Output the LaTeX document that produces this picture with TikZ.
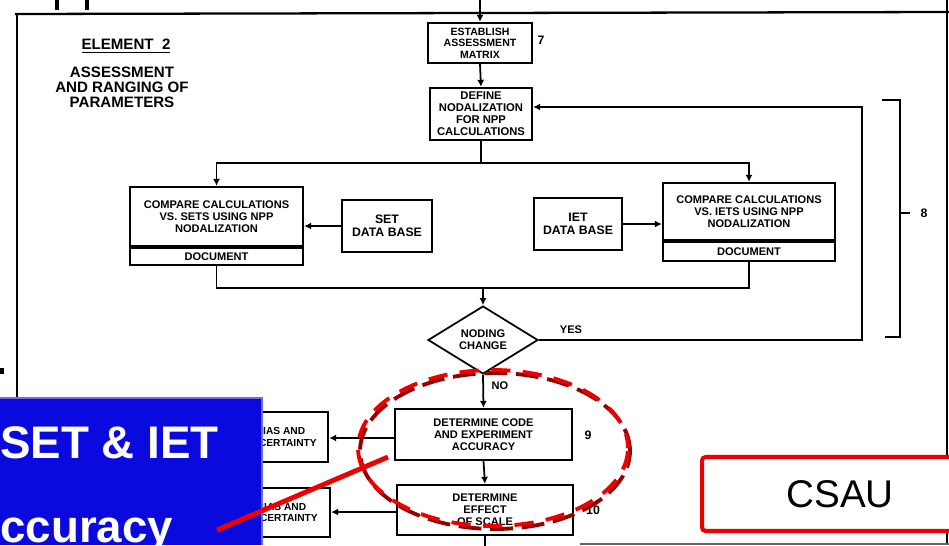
\documentclass[tikz,border=0pt]{standalone}
\usepackage{fontspec}
\setmainfont{Liberation Sans}
\usetikzlibrary{arrows.meta,shapes.geometric}

\definecolor{slideblue}{RGB}{10,10,222}
\definecolor{markred}{RGB}{238,0,0}
\definecolor{shadered}{RGB}{150,0,0}
\newcommand{\scanfont}{\fontsize{6.3}{6.9}\selectfont\bfseries}

\tikzset{
  flowbox/.style={draw,line width=1.3pt,fill=white,align=center,inner sep=0pt,font=\scanfont},
  flowlink/.style={line width=1pt,-{Latex[length=4pt,width=4pt]}},
  flowline/.style={line width=1pt},
  steplabel/.style={font=\fontsize{7}{7}\selectfont\bfseries,inner sep=0pt},
}

\begin{document}
\begin{tikzpicture}[x=0.02cm,y=-0.02cm]
\useasboundingbox (0,0) rectangle (949,545);
\clip (0,0) rectangle (949,545);
\fill[white] (0,0) rectangle (949,545);

%=== scanned frame ===
\draw[line width=2pt] (57,0) -- (57,10);
\draw[line width=2pt] (87,0) -- (87,10);
\draw[line width=1.3pt] (15,14) -- (949,12);
\draw[line width=1.6pt] (17,13) -- (17,400);
\draw[line width=1.4pt] (947,0) -- (947,545);
\draw[black!60,line width=0.8pt] (580,544) -- (949,544);
\fill (0,368) rectangle (4,374);

% element title
\node[font=\fontsize{8.6}{8.6}\selectfont\bfseries,inner sep=0pt] (elem) at (126,46) {\underline{ELEMENT\ \ 2}};
\node[font=\fontsize{8.6}{8.6}\selectfont\bfseries,align=center,inner sep=0pt] (elemtxt) at (122,87)
  {ASSESSMENT\\AND RANGING OF\\PARAMETERS};

%=== top of the flow ===
\node[flowbox,minimum width=2.08cm,minimum height=0.8cm,font=\fontsize{6}{6.5}\selectfont\bfseries] (est) at (480,43)
  {ESTABLISH\\ASSESSMENT\\MATRIX};
\node[steplabel] (n7) at (541,40) {7};
\node[flowbox,minimum width=2.04cm,minimum height=1.04cm,font=\fontsize{6.4}{6.8}\selectfont\bfseries] (def) at (481,114)
  {DEFINE\\NODALIZATION\\FOR NPP\\CALCULATIONS};

\coordinate (in) at (480,-5);
\draw[flowlink] (in) -- (est.north);
\draw[flowlink] (est.south) -- (def.north);

%=== comparisons against SET and IET data ===
\node[flowbox,minimum width=3.46cm,minimum height=1.18cm] (cmpL) at (216.5,216.5)
  {COMPARE CALCULATIONS\\VS. SETS USING NPP\\NODALIZATION};
\node[flowbox,minimum width=3.46cm,minimum height=0.34cm,anchor=north] (docL) at (cmpL.south) {DOCUMENT};
\node[flowbox,minimum width=1.8cm,minimum height=1.04cm,font=\fontsize{7}{7.5}\selectfont\bfseries] (setdb) at (387,226)
  {SET\\DATA BASE};

\node[flowbox,minimum width=3.44cm,minimum height=1.14cm] (cmpR) at (749,211.5)
  {COMPARE CALCULATIONS\\VS. IETS USING NPP\\NODALIZATION};
\node[flowbox,minimum width=3.44cm,minimum height=0.38cm,anchor=north] (docR) at (cmpR.south) {DOCUMENT};
\node[flowbox,minimum width=1.76cm,minimum height=1.04cm,font=\fontsize{7}{7.5}\selectfont\bfseries] (ietdb) at (578,224)
  {IET\\DATA BASE};

\coordinate (split) at (481,163);
\draw[flowline] (def.south) -- (split);
\draw[flowlink] (split) -| (cmpL.north);
\draw[flowlink] (split) -| (cmpR.north);
\draw[flowlink] (setdb.west) -- (setdb.west -| cmpL.east);
\draw[flowlink] (ietdb.east) -- (ietdb.east -| cmpR.west);

%=== nodalization decision ===
\node[diamond,draw,line width=1pt,fill=white,minimum width=2.2cm,minimum height=1.28cm,inner sep=0pt,
  align=center,font=\scanfont] (chg) at (483,340) {NODING\\CHANGE};

\coordinate (merge) at (483,288);
\draw[flowline] (docL.south) |- (merge);
\draw[flowline] (docR.south) |- (merge);
\draw[flowlink] (merge) -- (chg.north);

\coordinate (loopB) at (862,340);
\coordinate (loopT) at (862,107);
\draw[flowlink] (chg.east) -- (loopB) -- (loopT) -- (loopT -| def.east);
\node[font=\scanfont,inner sep=0pt] (yes) at (571,330) {YES};

% bracket for step 8
\draw[line width=1.3pt] (882,100) -- (900,100) -- (900,337) -- (885,337);
\draw[line width=1.3pt] (900,213) -- (910,213);
\node[steplabel] (n8) at (924,213) {8};

%=== accuracy and scale ===
\node[flowbox,minimum width=3.54cm,minimum height=1.02cm] (det) at (483.5,434.5)
  {DETERMINE CODE\\AND EXPERIMENT\\ACCURACY};
\node[steplabel] (n9) at (588,435) {9};
\node[flowbox,minimum width=3.52cm,minimum height=1.0cm] (scl) at (485,510)
  {DETERMINE\\EFFECT\\OF SCALE};
\node[steplabel] (n10) at (593,510) {10};

\node[flowbox,minimum width=1.9cm,minimum height=1.0cm,font=\fontsize{5.8}{6.6}\selectfont\bfseries] (bias1) at (280.5,437)
  {BIAS AND\\UNCERTAINTY};
\node[flowbox,minimum width=1.94cm,minimum height=0.98cm,font=\fontsize{5.8}{6.6}\selectfont\bfseries] (bias2) at (281.5,512.5)
  {BIAS AND\\UNCERTAINTY};

\draw[flowlink] (chg.south) -- (det.north);
\node[font=\scanfont,inner sep=0pt] (no) at (500,386) {NO};
\draw[flowlink] (det.south) -- (scl.north);
\coordinate (out) at (485,550);
\draw[flowline] (scl.south) -- (out);
\draw[flowlink] (det.west |- 0,438) -- (bias1.east |- 0,438);
\draw[flowlink] (scl.west |- 0,512) -- (bias2.east |- 0,512);

%=== slide overlay ===
\draw[shadered,line width=2.2pt,dash pattern=on 13pt off 5pt] (495,451) ellipse [x radius=2.7cm, y radius=1.56cm];
\draw[markred,line width=2.2pt,dash pattern=on 11pt off 7pt,dash phase=3pt] (493,448) ellipse [x radius=2.7cm, y radius=1.56cm];

\fill[slideblue] (0,397) rectangle (262,545);
\draw[slideblue!60!white,line width=1pt] (0,398) -- (262,398) -- (262,545);
\node[anchor=base west,inner sep=0pt,text=white,font=\fontsize{26}{26}\selectfont\bfseries] (setiet) at (0,458) {SET \& IET};
\node[anchor=base west,inner sep=0pt,text=white,font=\fontsize{26}{26}\selectfont\bfseries] (acc) at (0,542) {ccuracy};

\coordinate (ptail) at (217,530);
\coordinate (phead) at (388,457);
\draw[markred,line width=2.8pt] (ptail) -- (phead);

\node[draw=markred,line width=2.3pt,fill=white,rounded corners=2pt,minimum width=5.52cm,minimum height=1.48cm,
  font=\fontsize{22}{22}\selectfont] (csau) at (840,494) {CSAU};

\end{tikzpicture}
\end{document}
